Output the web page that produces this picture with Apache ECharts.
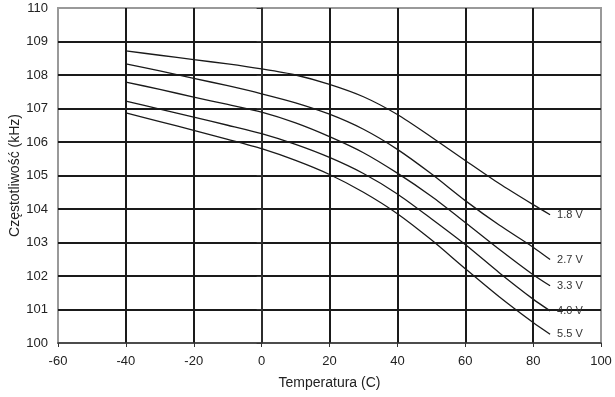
<!DOCTYPE html>
<html>
<head>
<meta charset="utf-8">
<script src="https://cdn.jsdelivr.net/npm/echarts@6/dist/echarts.min.js"></script>
<style>
  html, body { margin: 0; padding: 0; background: #fff; }
  #chart { width: 615px; height: 397px; }
</style>
</head>
<body>
<div id="chart"></div>
<script>
// temperature points (C) where curves were read
const temps = [-40, -30, -20, -10, 0, 10, 20, 30, 40, 50, 60, 70, 80, 85];

// frequency (kHz) per supply voltage
const f18 = [108.72, 108.59, 108.46, 108.33, 108.18, 108.0, 107.72, 107.35, 106.82, 106.15, 105.45, 104.76, 104.13, 103.83];
const f27 = [108.33, 108.12, 107.9, 107.68, 107.44, 107.17, 106.83, 106.38, 105.78, 105.05, 104.25, 103.52, 102.86, 102.49];
const f33 = [107.79, 107.57, 107.34, 107.12, 106.89, 106.57, 106.16, 105.68, 105.07, 104.38, 103.6, 102.8, 102.04, 101.71];
const f40 = [107.22, 106.98, 106.74, 106.5, 106.25, 105.93, 105.54, 105.06, 104.45, 103.71, 102.94, 102.1, 101.31, 100.96];
const f55 = [106.87, 106.61, 106.35, 106.08, 105.8, 105.45, 105.03, 104.5, 103.86, 103.08, 102.22, 101.38, 100.61, 100.26];

const voltages = ["1.8 V", "2.7 V", "3.3 V", "4.0 V", "5.5 V"];
const curves = [f18, f27, f33, f40, f55];

const chart = echarts.init(document.getElementById("chart"));

const textColor = "#222";
const fontFamily = "Liberation Sans, Arial, sans-serif";

const option = {
  animation: false,
  grid: {
    left: 58,
    right: 14,
    top: 8,
    bottom: 54,
    outerBoundsMode: "none",
    containLabel: false,
    show: true,
    borderColor: "#999",
    borderWidth: 2,
  },
  xAxis: {
    type: "value",
    min: -60,
    max: 100,
    interval: 20,
    name: "Temperatura (C)",
    nameLocation: "middle",
    nameGap: 33,
    nameTextStyle: { color: textColor, fontSize: 14, fontFamily },
    axisLine: { lineStyle: { color: "#333", width: 1.5 } },
    axisTick: { show: true, length: 4, lineStyle: { color: "#333" } },
    axisLabel: { color: textColor, fontSize: 13, fontFamily, margin: 12 },
    splitLine: {
      show: true,
      showMinLine: false,
      showMaxLine: false,
      lineStyle: { color: "#1a1a1a", width: 2 },
    },
  },
  yAxis: {
    type: "value",
    min: 100,
    max: 110,
    interval: 1,
    name: "Częstotliwość (kHz)",
    nameLocation: "middle",
    nameGap: 36,
    nameMoveOverlap: false,
    nameTextStyle: { color: textColor, fontSize: 14, fontFamily },
    axisLine: { show: true, lineStyle: { color: "#333", width: 1.5 } },
    axisTick: { show: true, length: 5, lineStyle: { color: "#333" } },
    axisLabel: { color: textColor, fontSize: 13, fontFamily, margin: 10 },
    splitLine: {
      show: true,
      showMinLine: false,
      showMaxLine: false,
      lineStyle: { color: "#1a1a1a", width: 2 },
    },
  },
  series: curves.map((vals, i) => ({
    name: voltages[i],
    type: "line",
    data: temps.map((t, j) => [t, vals[j]]),
    smooth: 0.25,
    showSymbol: false,
    lineStyle: { color: "#1a1a1a", width: 1.3 },
    endLabel: {
      show: true,
      formatter: "{a}",
      color: "#333",
      fontSize: 11,
      fontFamily,
      distance: 7,
    },
    z: 3,
  })),
};

chart.setOption(option);
</script>
</body>
</html>
